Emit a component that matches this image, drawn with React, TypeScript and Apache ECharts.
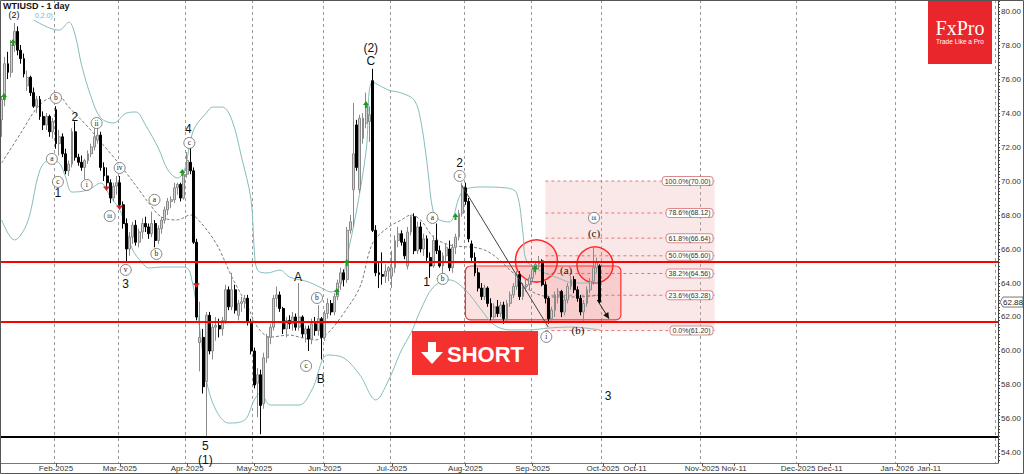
import React, { useEffect, useRef } from "react";
import * as echarts from "echarts";

// ---------- DATA ----------
// daily bars [open, high, low, close], Jan 9 2025 .. Sep 30 2025 (weekdays, Apr 18 absent)
const ohlc: [number, number, number, number][] = [
  [73.6, 75.0, 72.6, 74.8], [74.8, 77.3, 74.4, 76.9], [76.9, 77.6, 76.0, 76.4], [76.4, 78.3, 76.1, 78.0],
  [78.0, 79.3, 77.6, 78.8], [78.8, 79.1, 77.4, 77.7], [77.7, 78.0, 76.9, 77.2], [77.2, 77.5, 76.1, 76.3],
  [75.6, 76.5, 75.3, 76.1], [76.1, 76.2, 75.0, 75.2], [75.2, 75.5, 74.3, 74.4], [74.4, 75.0, 74.0, 74.8],
  [74.8, 75.0, 73.6, 73.8], [73.8, 74.1, 73.0, 73.3], [73.3, 74.0, 73.0, 73.8], [73.8, 73.9, 72.6, 72.9],
  [72.9, 73.7, 72.5, 73.5], [74.2, 74.4, 71.9, 72.2], [72.2, 73.0, 71.5, 72.6], [72.6, 72.8, 71.4, 71.6],
  [71.6, 71.9, 70.4, 70.6], [70.6, 71.2, 70.3, 71.0], [71.0, 73.1, 70.8, 72.9], [72.9, 73.5, 71.2, 71.4],
  [71.4, 71.6, 70.9, 71.1], [71.1, 71.5, 70.6, 70.8], [70.8, 71.3, 70.1, 71.2], [71.2, 71.8, 71.0, 71.6],
  [71.6, 72.2, 71.4, 72.0], [72.0, 73.1, 71.8, 72.6], [72.4, 73.2, 72.2, 72.7], [72.7, 72.9, 70.6, 70.8],
  [70.8, 71.1, 70.0, 70.3], [70.3, 70.8, 69.6, 69.9], [69.9, 70.1, 68.7, 69.0], [69.0, 69.9, 68.8, 69.7],
  [69.7, 70.3, 69.2, 69.9], [69.9, 70.3, 68.4, 68.6], [68.6, 68.8, 67.2, 67.5], [67.5, 67.8, 65.2, 66.0],
  [66.0, 67.0, 65.6, 66.7], [66.7, 67.6, 66.3, 67.4], [67.4, 67.7, 66.2, 66.4], [66.4, 67.2, 66.1, 67.0],
  [67.0, 67.8, 66.6, 67.5], [67.5, 67.9, 67.0, 67.3], [67.3, 67.5, 66.6, 66.9], [66.9, 68.2, 66.7, 67.5],
  [67.5, 67.7, 66.1, 66.5], [66.5, 67.4, 66.3, 67.2], [67.2, 67.9, 66.9, 67.7], [67.7, 68.5, 67.5, 68.3],
  [68.3, 69.0, 68.0, 68.8], [68.8, 69.1, 68.4, 68.9], [68.9, 69.9, 68.7, 69.6], [69.6, 69.9, 69.2, 69.8],
  [69.8, 69.9, 68.8, 69.0], [69.0, 70.6, 68.9, 70.4], [70.4, 71.7, 70.2, 71.2], [71.1, 72.0, 70.4, 70.6],
  [70.6, 70.8, 66.3, 66.4], [66.4, 66.6, 61.8, 62.0], [60.5, 62.9, 58.8, 60.8], [60.8, 61.3, 57.5, 57.9],
  [58.2, 62.3, 54.9, 62.1], [62.1, 62.3, 59.8, 60.0], [60.0, 61.6, 59.5, 61.4], [61.4, 62.0, 60.6, 61.5],
  [61.5, 61.9, 60.8, 61.3], [61.3, 62.0, 60.9, 61.8], [61.8, 63.9, 61.6, 63.6], [63.6, 63.8, 62.4, 62.6],
  [62.6, 64.6, 62.4, 63.6], [63.6, 63.9, 62.2, 62.4], [62.1, 63.0, 61.8, 62.8], [62.8, 63.2, 62.3, 62.9],
  [62.9, 63.3, 62.5, 63.1], [63.1, 63.3, 61.5, 61.7], [61.7, 61.9, 59.8, 60.0], [60.0, 60.2, 57.8, 58.0],
  [58.1, 59.0, 56.1, 58.6], [58.6, 58.9, 55.1, 56.8], [56.9, 59.9, 56.6, 59.6], [59.6, 61.0, 59.3, 60.8],
  [60.8, 61.6, 60.4, 61.4], [61.4, 63.3, 61.2, 63.1], [63.1, 63.8, 62.6, 63.3], [63.3, 63.5, 62.3, 62.5],
  [62.5, 62.6, 61.0, 61.3], [61.3, 62.0, 60.8, 61.8], [61.8, 62.1, 61.3, 61.6], [61.6, 62.3, 61.2, 62.0],
  [62.0, 62.2, 61.2, 61.4], [61.4, 64.0, 61.2, 62.0], [62.0, 62.1, 60.8, 61.0], [61.0, 61.5, 60.5, 61.3],
  [61.3, 61.5, 60.0, 60.7], [60.7, 61.9, 60.4, 61.6], [61.6, 62.0, 60.9, 61.2], [61.2, 62.7, 60.9, 61.9],
  [61.9, 62.0, 59.5, 60.8], [60.8, 62.4, 60.6, 62.2], [62.2, 63.1, 61.9, 62.8], [62.8, 63.0, 62.1, 62.3],
  [62.3, 63.4, 62.1, 63.2], [63.2, 64.2, 63.0, 64.0], [64.0, 64.9, 63.6, 64.6], [64.6, 64.8, 63.8, 64.2],
  [64.2, 67.3, 64.0, 67.1], [67.1, 68.0, 66.9, 67.6], [69.5, 74.6, 67.3, 71.6], [73.3, 73.6, 70.6, 70.8],
  [69.5, 73.9, 69.3, 73.7], [72.5, 74.0, 72.2, 73.7], [73.4, 75.2, 73.1, 74.5], [73.5, 74.4, 72.3, 73.9],
  [75.9, 76.6, 67.0, 67.1], [67.1, 67.4, 64.4, 64.6], [64.6, 65.2, 63.7, 64.5], [64.5, 65.8, 63.9, 64.4],
  [64.4, 65.1, 64.0, 64.7], [64.7, 65.0, 64.1, 64.9], [64.4, 65.9, 63.7, 64.9], [64.9, 66.8, 64.6, 66.5],
  [66.5, 67.3, 66.1, 66.9], [66.9, 67.1, 66.2, 66.4], [66.4, 66.6, 65.4, 65.6], [65.0, 67.3, 64.8, 67.0],
  [67.0, 68.0, 66.8, 67.9], [67.9, 68.1, 65.7, 65.9], [65.9, 67.6, 65.7, 67.3], [67.3, 67.6, 65.8, 66.0],
  [66.0, 66.9, 65.6, 66.6], [66.6, 66.8, 65.3, 65.5], [65.5, 65.8, 64.3, 65.0], [65.0, 66.8, 64.9, 66.5],
  [66.5, 67.5, 65.7, 65.9], [65.9, 66.2, 64.9, 65.0], [65.0, 65.8, 64.5, 65.6], [65.6, 66.3, 65.3, 66.1],
  [66.0, 66.5, 64.7, 64.9], [64.9, 66.3, 64.6, 66.1], [66.1, 66.9, 65.7, 66.7], [66.7, 68.3, 66.5, 68.1],
  [68.1, 69.9, 67.9, 69.6], [69.6, 69.9, 68.6, 68.8], [68.8, 69.0, 66.4, 66.6], [66.3, 66.5, 65.3, 65.5],
  [65.5, 65.8, 64.4, 64.6], [64.6, 64.9, 63.5, 63.7], [63.7, 64.0, 63.0, 63.2], [63.2, 63.9, 63.0, 63.7],
  [63.7, 63.8, 62.6, 62.8], [62.8, 63.1, 61.8, 62.0], [62.0, 62.8, 61.9, 62.6], [62.6, 63.0, 62.0, 62.2],
  [62.2, 62.9, 62.0, 62.7], [62.7, 62.9, 61.6, 61.9], [61.9, 63.0, 61.7, 62.8], [62.8, 63.5, 62.6, 63.3],
  [63.3, 64.0, 63.1, 63.8], [63.8, 64.7, 63.6, 64.5], [64.5, 64.7, 63.0, 63.2], [63.2, 64.0, 63.0, 63.8],
  [63.8, 64.3, 63.5, 63.9], [63.9, 64.5, 63.6, 64.3], [64.3, 65.0, 64.1, 64.8], [64.8, 65.3, 64.5, 65.1],
  [65.1, 65.6, 64.8, 65.3], [65.3, 65.4, 63.8, 63.9], [63.9, 64.1, 62.8, 63.1], [63.1, 63.2, 61.6, 61.9],
  [61.9, 62.6, 61.8, 62.4], [62.4, 63.5, 62.0, 63.3], [63.3, 63.7, 62.8, 63.5], [63.5, 63.6, 62.0, 62.3],
  [62.3, 63.3, 62.1, 63.0], [63.0, 64.0, 62.8, 63.8], [63.8, 64.4, 63.6, 64.2], [64.2, 64.4, 63.4, 63.6],
  [63.6, 63.8, 62.9, 63.1], [63.1, 63.3, 62.1, 62.3], [62.3, 63.0, 61.7, 62.8], [62.8, 63.8, 62.6, 63.6],
  [63.6, 64.3, 63.4, 64.1], [64.1, 66.1, 63.9, 64.9], [64.9, 65.5, 64.6, 65.2], [65.0, 65.1, 62.8, 62.88],
];

// Bollinger band (20, 2.0): [bar index, price]
const upperBand: [number, number][] = [
  [10, 79.47], [15, 79.0], [18, 78.88], [21, 79.35], [23, 78.59], [25, 76.82], [28, 74.94], [31, 73.71],
  [35, 73.41], [39, 74.0], [42, 74.06], [45, 73.29], [49, 71.94], [52, 70.65], [55, 70.18], [57, 70.53],
  [60, 73.0], [64, 74.0], [66, 74.35], [69, 74.35], [72, 73.59], [75, 71.41], [78, 68.88], [79, 65.94],
  [80, 64.76], [83, 64.59], [87, 64.76], [90, 64.35], [96, 64.06], [100, 63.71], [103, 63.47], [106, 63.88],
  [108, 65.53], [111, 68.29], [114, 71.82], [116, 75.82], [121, 75.35], [125, 75.18], [129, 74.76],
  [131, 73.59], [133, 71.06], [135, 68.12], [137, 67.71], [140, 67.59], [144, 69.35], [150, 69.65],
  [158, 69.59], [161, 69.29], [163, 66.94], [164, 65.35], [168, 64.76], [174, 64.29], [179, 64.0], [187, 64.0],
];
const middleBand: [number, number][] = [
  [0, 71.06], [6, 72.82], [11, 74.29], [15, 74.88], [18, 74.94], [21, 74.35], [27, 73.18], [31, 72.29],
  [35, 71.41], [39, 70.47], [43, 69.47], [46, 68.71], [50, 67.88], [55, 67.71], [59, 68.0], [61, 67.82],
  [67, 66.35], [72, 64.35], [77, 62.59], [80, 61.41], [84, 60.82], [90, 60.94], [93, 60.82], [98, 60.65],
  [102, 61.06], [107, 62.24], [112, 63.76], [116, 66.35], [121, 67.29], [125, 67.71], [128, 68.0],
  [131, 67.71], [135, 66.71], [140, 66.24], [151, 65.94], [159, 64.76], [165, 63.59], [172, 63.18],
  [180, 63.18], [187, 63.29],
];
const lowerBand: [number, number][] = [
  [0, 67.71], [4, 66.53], [8, 67.53], [12, 70.65], [15, 71.24], [18, 71.06], [20, 70.24], [22, 69.35],
  [27, 69.47], [31, 69.88], [34, 69.06], [37, 68.29], [39, 67.12], [41, 65.94], [44, 65.18], [46, 64.88],
  [50, 64.94], [57, 64.94], [59, 64.59], [62, 61.24], [64, 58.29], [67, 56.53], [71, 55.76], [76, 55.94],
  [79, 57.12], [81, 57.53], [84, 56.82], [93, 56.82], [97, 57.71], [102, 59.76], [107, 59.59], [112, 58.59],
  [117, 57.12], [121, 58.29], [125, 60.06], [128, 61.06], [131, 62.41], [135, 63.76], [140, 64.18],
  [145, 63.59], [150, 62.41], [154, 61.53], [159, 61.24], [165, 61.24], [171, 61.35], [178, 61.41], [187, 61.24],
];

const yLabelValues = [54, 56, 58, 60, 62, 64, 66, 68, 70, 72, 74, 76, 78, 80];
const resistanceLevel = 65.24;
const supportLevel = 61.71;
const lowLevel = 54.94;
const lastPrice = 62.88;

const fibLevels: [string, number][] = [
  ["100.0%", 70.0], ["78.6%", 68.12], ["61.8%", 66.64], ["50.0%", 65.6],
  ["38.2%", 64.56], ["23.6%", 63.28], ["0.0%", 61.2],
];

// wave labels: [text, bar index, price, kind]
const waveLabels: [string, number, number, string][] = [
  ["(2)", 3.9, 79.75, "small"], ["2", 22.9, 73.77, "big"], ["1", 17.6, 69.3, "big"], ["3", 38.8, 63.94, "big"],
  ["4", 58.4, 73.06, "big"], ["5", 63.7, 54.41, "big"], ["(1)", 63.7, 53.59, "big"], ["A", 92.7, 64.36, "big"],
  ["B", 99.8, 58.36, "big"], ["(2)", 115.4, 77.83, "big"], ["C", 115.4, 77.06, "big"], ["1", 132.9, 64.06, "big"],
  ["2", 143.2, 71.06, "big"], ["3", 189.6, 57.36, "big"],
  ["(a)", 176.5, 64.77, "paren"], ["(b)", 180.2, 61.24, "paren"], ["(c)", 185.2, 66.94, "paren"],
  ["b", 17.0, 74.89, "circle"], ["a", 15.7, 71.3, "circle"], ["c", 17.6, 69.95, "circle"],
  ["ii", 29.7, 73.41, "circle"], ["i", 26.6, 69.77, "circle"], ["iv", 36.9, 70.77, "circle"],
  ["iii", 33.8, 67.94, "circle"], ["v", 38.8, 64.77, "circle"], ["a", 47.8, 68.89, "circle"],
  ["b", 48.4, 65.71, "circle"], ["c", 58.7, 72.24, "circle"], ["b", 98.6, 63.12, "circle"],
  ["c", 95.2, 59.12, "circle"], ["a", 134.7, 67.83, "circle"], ["b", 137.9, 64.24, "circle"],
  ["c", 143.2, 70.3, "circle"], ["i", 170.3, 60.83, "circle"], ["iii", 185.2, 67.83, "circle"],
];

// indicator signal arrows: [bar index, price, up(1)/down(0)]
const signals: [number, number, number][] = [
  [0.75, 74.94, 1], [3.55, 78.12, 1], [56.5, 70.47, 1], [104.8, 63.47, 1], [107.9, 65.18, 1],
  [113.9, 74.47, 1], [141.9, 67.88, 1], [166.8, 64.83, 1],
  [32.8, 69.59, 0], [36.9, 68.47, 0], [60.9, 63.89, 0],
];

// ---------- categories ----------
const MONTHS = ["Jan", "Feb", "Mar", "Apr", "May", "Jun", "Jul", "Aug", "Sep", "Oct", "Nov", "Dec"];
const categories: string[] = [];
const labelText: Record<number, string> = {};
const monthStarts = new Set<number>();
(function buildCategories() {
  let d = new Date(Date.UTC(2025, 0, 9));
  const histEnd = Date.UTC(2025, 8, 30);
  let prevMonth = -1;
  while (d.getTime() <= histEnd) {
    const wd = d.getUTCDay();
    const isHoliday = d.getUTCMonth() === 3 && d.getUTCDate() === 18;
    if (wd !== 0 && wd !== 6 && !isHoliday) {
      const idx = categories.length;
      const m = d.getUTCMonth();
      if (prevMonth !== -1 && m !== prevMonth) {
        monthStarts.add(idx);
        labelText[idx] = MONTHS[m] + "-" + d.getUTCFullYear();
      }
      prevMonth = m;
      categories.push(d.toISOString().slice(0, 10));
    }
    d = new Date(d.getTime() + 86400000);
  }
  // future area: calendar days
  for (let k = 0; k < 124; k++) {
    const idx = categories.length;
    const m = d.getUTCMonth();
    const day = d.getUTCDate();
    if (day === 1) {
      monthStarts.add(idx);
      if (idx < 305) labelText[idx] = MONTHS[m] + "-" + d.getUTCFullYear();
    } else if (day === 11 && idx < 305) {
      labelText[idx] = MONTHS[m] + "-11";
    }
    categories.push(d.toISOString().slice(0, 10));
    d = new Date(d.getTime() + 86400000);
  }
})();

const SANS = "Liberation Sans, Arial, sans-serif";
const SERIF = "Liberation Serif, Times New Roman, serif";

export default function App() {
  const ref = useRef<HTMLDivElement>(null);
  useEffect(() => {
    if (!ref.current) return;
    const chart = echarts.init(ref.current, null, { renderer: "svg" });
    const minorTicks: number[] = [];
    for (let t = 536; t <= 806; t += 2) minorTicks.push(t / 10);

    const bandLine = (name: string, data: [number, number][], color: string, dashed: boolean) => ({
      name,
      type: "line",
      data,
      smooth: 0.35,
      showSymbol: false,
      symbol: "none",
      silent: true,
      connectNulls: true,
      lineStyle: { color, width: 1, type: dashed ? [3, 2] : "solid" },
      z: 1,
    });

    chart.setOption({
      animation: false,
      backgroundColor: "#ffffff",
      grid: { left: 0, right: 23, top: 0, bottom: 11, containLabel: false },
      xAxis: {
        type: "category",
        data: categories,
        boundaryGap: true,
        axisLine: { show: true, lineStyle: { color: "#777", width: 1 } },
        axisTick: {
          show: true,
          alignWithLabel: true,
          length: 3,
          interval: (i: number) => labelText[i] !== undefined,
          lineStyle: { color: "#555" },
        },
        axisLabel: {
          interval: (i: number) => labelText[i] !== undefined,
          formatter: (_v: string, i: number) => labelText[i] || "",
          fontSize: 8,
          color: "#333",
          margin: 1,
          fontFamily: SANS,
        },
        splitLine: {
          show: true,
          interval: (i: number) => monthStarts.has(i),
          lineStyle: { color: "#9a9a9a", type: [3, 3], width: 1 },
        },
      },
      yAxis: {
        type: "value",
        position: "right",
        min: 53.41,
        max: 80.65,
        scale: true,
        axisLine: { show: true, lineStyle: { color: "#444", width: 1 } },
        axisTick: { show: true, length: 2, customValues: minorTicks, lineStyle: { color: "#444" } },
        axisLabel: {
          customValues: yLabelValues,
          formatter: (v: number) => v.toFixed(2),
          fontSize: 8,
          color: "#333",
          margin: 3,
          fontFamily: SANS,
        },
        splitLine: { show: false },
      },
      series: [
        bandLine("upper", upperBand, "#86bdbd", false),
        bandLine("lower", lowerBand, "#86bdbd", false),
        bandLine("middle", middleBand, "#7a7a7a", true),
        {
          name: "WTIUSD",
          type: "candlestick",
          data: ohlc.map(([o, h, l, c]) => [o, c, l, h]),
          barWidth: 2.4,
          z: 3,
          itemStyle: {
            color: "#d2d2d2",
            color0: "#000000",
            borderColor: "#8a8a8a",
            borderColor0: "#000000",
            borderWidth: 1,
          },
          markLine: {
            silent: true,
            symbol: ["none", "none"],
            label: { show: false },
            animation: false,
            data: [
              { yAxis: resistanceLevel, lineStyle: { color: "#ff0000", width: 2, type: "solid" } },
              { yAxis: supportLevel, lineStyle: { color: "#ff0000", width: 2, type: "solid" } },
              { yAxis: lowLevel, lineStyle: { color: "#000000", width: 2, type: "solid" } },
            ],
          },
        },
      ],
    });

    // ---- overlays positioned via the chart's own scales ----
    const a = chart.convertToPixel({ gridIndex: 0 }, [0, 60]) as number[];
    const b = chart.convertToPixel({ gridIndex: 0 }, [100, 70]) as number[];
    const sx = (b[0] - a[0]) / 100;
    const sy = (b[1] - a[1]) / 10;
    const X = (i: number) => a[0] + i * sx;
    const Y = (v: number) => a[1] + (v - 60) * sy;

    const els: any[] = [];
    // fib zone
    const fz0 = X(170), fz1 = X(222.9);
    els.push({
      type: "rect", z: 0, silent: true,
      shape: { x: fz0, y: Y(70), width: fz1 - fz0, height: Y(61.2) - Y(70) },
      style: { fill: "rgba(236,160,160,0.25)" },
    });
    fibLevels.forEach(([p, v]) => {
      els.push({
        type: "line", z: 0, silent: true,
        shape: { x1: fz0, y1: Y(v), x2: fz1, y2: Y(v) },
        style: { stroke: "#e07a7a", lineWidth: 1, lineDash: [3, 3] },
      });
      els.push({
        type: "text", z: 50, silent: true, x: fz1 - 2, y: Y(v),
        style: {
          text: `${p}(${v.toFixed(2)})`, fontSize: 7, fontFamily: SANS, fill: "#333",
          align: "right", verticalAlign: "middle", backgroundColor: "#fff",
          borderColor: "#d98b8b", borderWidth: 1, borderRadius: 3, padding: [1, 2, 0, 2],
        },
      });
    });
    // consolidation box
    els.push({
      type: "rect", z: 0, silent: true,
      shape: { x: X(145), y: Y(65.0), width: X(193.6) - X(145), height: Y(61.83) - Y(65.0), r: 5 },
      style: { fill: "rgba(240,90,90,0.18)", stroke: "#ff3030", lineWidth: 1.2 },
    });
    // circles
    els.push({
      type: "circle", z: 1, silent: true,
      shape: { cx: X(167.2), cy: Y(65.3), r: 21 },
      style: { fill: "rgba(255,0,0,0.08)", stroke: "#ff2a2a", lineWidth: 1.5 },
    });
    els.push({
      type: "circle", z: 1, silent: true,
      shape: { cx: X(185.5), cy: Y(65.06), r: 18 },
      style: { fill: "rgba(255,0,0,0.08)", stroke: "#ff2a2a", lineWidth: 1.5 },
    });
    // diagonal trend line
    els.push({
      type: "line", z: 40, silent: true,
      shape: { x1: X(143.8), y1: Y(69.77), x2: X(170.9), y2: Y(61.41) },
      style: { stroke: "#444", lineWidth: 1 },
    });
    // arrow from last bar
    const ax1 = X(186.2), ay1 = Y(63.0), ax2 = X(189.9), ay2 = Y(61.9);
    els.push({
      type: "line", z: 40, silent: true,
      shape: { x1: ax1, y1: ay1, x2: ax2, y2: ay2 },
      style: { stroke: "#222", lineWidth: 1 },
    });
    {
      const ang = Math.atan2(ay2 - ay1, ax2 - ax1);
      const L = 6, W = 3;
      const bx = ax2 - L * Math.cos(ang), by = ay2 - L * Math.sin(ang);
      els.push({
        type: "polygon", z: 40, silent: true,
        shape: {
          points: [
            [ax2, ay2],
            [bx + W * Math.sin(ang), by - W * Math.cos(ang)],
            [bx - W * Math.sin(ang), by + W * Math.cos(ang)],
          ],
        },
        style: { fill: "#111" },
      });
    }
    // signal arrows
    signals.forEach(([i, v, up]) => {
      const cx = X(i), cy = Y(v);
      if (up) {
        els.push({
          type: "polygon", z: 45, silent: true,
          shape: { points: [[cx, cy - 4], [cx - 3, cy], [cx - 1, cy], [cx - 1, cy + 3], [cx + 1, cy + 3], [cx + 1, cy], [cx + 3, cy]] },
          style: { fill: "#1f9a1f" },
        });
      } else {
        els.push({
          type: "polygon", z: 45, silent: true,
          shape: { points: [[cx, cy + 3], [cx - 3, cy - 1], [cx + 3, cy - 1]] },
          style: { fill: "#d42020" },
        });
        els.push({
          type: "line", z: 45, silent: true,
          shape: { x1: cx - 3, y1: cy - 1, x2: cx + 3, y2: cy - 1 },
          style: { stroke: "#d42020", lineWidth: 1 },
        });
      }
    });
    // wave labels
    waveLabels.forEach(([t, i, v, kind]) => {
      const cx = X(i), cy = Y(v);
      if (kind === "circle") {
        els.push({
          type: "circle", z: 60, silent: true,
          shape: { cx, cy, r: 5.5 },
          style: { fill: "#fff", stroke: "#666", lineWidth: 0.8 },
        });
        els.push({
          type: "text", z: 61, silent: true, x: cx, y: cy,
          style: { text: t, fontSize: t.length > 2 ? 6 : 7.5, fontFamily: SERIF, fill: "#222", align: "center", verticalAlign: "middle" },
        });
      } else {
        els.push({
          type: "text", z: 60, silent: true, x: cx, y: cy,
          style: {
            text: t,
            fontSize: kind === "paren" ? 11 : kind === "small" ? 9 : 12,
            fontFamily: kind === "paren" ? SERIF : SANS,
            fill: "#111", align: "center", verticalAlign: "middle",
          },
        });
      }
    });
    // current price tag
    const py = Y(lastPrice);
    els.push({
      type: "polygon", z: 70, silent: true,
      shape: { points: [[1000, py], [1003, py - 5], [1023, py - 5], [1023, py + 5], [1003, py + 5]] },
      style: { fill: "#fff", stroke: "#555", lineWidth: 0.8 },
    });
    els.push({
      type: "text", z: 71, silent: true, x: 1013, y: py,
      style: { text: lastPrice.toFixed(2), fontSize: 8, fontFamily: SANS, fill: "#222", align: "center", verticalAlign: "middle" },
    });
    // SHORT badge
    els.push({ type: "rect", z: 80, silent: true, shape: { x: 412, y: 331, width: 126, height: 44 }, style: { fill: "#f4312f" } });
    els.push({
      type: "polygon", z: 81, silent: true,
      shape: { points: [[428, 342], [436, 342], [436, 352], [443, 352], [432, 364], [421, 352], [428, 352]] },
      style: { fill: "#fff" },
    });
    els.push({
      type: "text", z: 81, silent: true, x: 447, y: 354,
      style: { text: "SHORT", fontSize: 22, fontWeight: "bold", fontFamily: SANS, fill: "#fff", align: "left", verticalAlign: "middle" },
    });
    // logo
    els.push({ type: "rect", z: 80, silent: true, shape: { x: 928, y: 0, width: 64, height: 64 }, style: { fill: "#e8262b" } });
    els.push({
      type: "text", z: 81, silent: true, x: 960, y: 28,
      style: { text: "FxPro", fontSize: 20, fontFamily: SERIF, fill: "#fff", align: "center", verticalAlign: "middle" },
    });
    els.push({
      type: "text", z: 81, silent: true, x: 960, y: 41,
      style: { text: "Trade Like a Pro", fontSize: 6.5, fontFamily: SANS, fill: "#fff", align: "center", verticalAlign: "middle" },
    });
    // title and indicator label
    els.push({
      type: "text", z: 90, silent: true, x: 3, y: 1,
      style: { text: "WTIUSD - 1 day", fontSize: 9, fontWeight: "bold", fontFamily: SANS, fill: "#111", align: "left", verticalAlign: "top" },
    });
    els.push({
      type: "text", z: 90, silent: true, x: 35, y: 15,
      style: { text: "0,2.0)", fontSize: 7, fontFamily: SANS, fill: "#7fb3b3", align: "left", verticalAlign: "middle" },
    });
    // outer frame
    els.push({
      type: "rect", z: 95, silent: true,
      shape: { x: 0.5, y: 0.5, width: 1023, height: 473 },
      style: { fill: "none", stroke: "#555", lineWidth: 1 },
    });

    chart.setOption({ graphic: { elements: els } });

    return () => chart.dispose();
  }, []);

  return (
    <div
      ref={ref}
      style={{ position: "fixed", left: 0, top: 0, width: 1024, height: 474, background: "#fff" }}
    />
  );
}
